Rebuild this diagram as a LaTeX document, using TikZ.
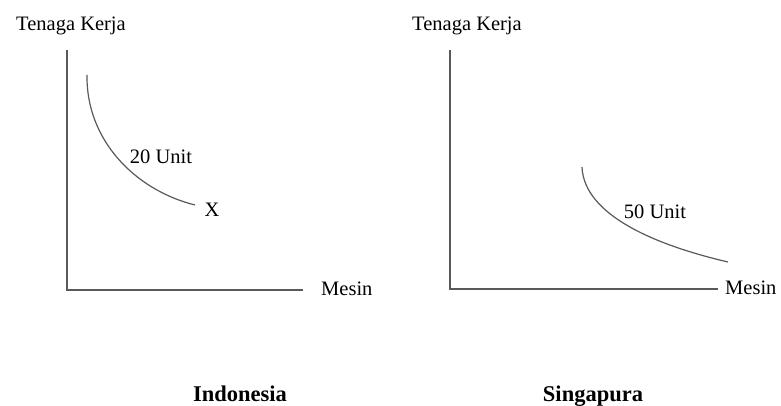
\documentclass[tikz,border=0pt]{standalone}
\usepackage{fontspec}
\setmainfont{Liberation Serif}
\begin{document}
\begin{tikzpicture}[x=1pt,y=-1pt,
  axis/.style={draw=black!65, line width=1.3pt},
  curve/.style={draw=black!65, line width=1.2pt},
  lbl/.style={inner sep=0pt, font=\fontsize{20.5}{24}\selectfont},
  country/.style={inner sep=0pt, anchor=base, font=\fontsize{22.5}{26}\selectfont\bfseries}]
\useasboundingbox (0,0) rectangle (781,406);
% left chart
\coordinate (ltop) at (67,50);
\coordinate (lorig) at (67,290);
\coordinate (lend) at (303,290);
\draw[axis] (ltop) -- (lorig) -- (lend);
\node[lbl, anchor=west] (lmesin) at (321,289) {Mesin};
\node[lbl] (lyl) at (71,26) {Tenaga Kerja};
\coordinate (lc1) at (87,75);
\coordinate (lc2) at (195,205);
\draw[curve] (lc1) .. controls (86,140) and (135,190) .. (lc2);
\node[lbl] (l20) at (161,157) {20 Unit};
\node[lbl] (lx) at (212,210) {X};
\node[country] (indo) at (240,401) {Indonesia};
% right chart
\coordinate (rtop) at (450,50);
\coordinate (rorig) at (450,289);
\coordinate (rend) at (718,289);
\draw[axis] (rtop) -- (rorig) -- (rend);
\node[lbl, anchor=west] (rmesin) at (725,288) {Mesin};
\node[lbl] (ryl) at (467,26) {Tenaga Kerja};
\coordinate (rc1) at (582,167);
\coordinate (rc2) at (728,262);
\draw[curve] (rc1) .. controls (584,215) and (655,245) .. (rc2);
\node[lbl] (r50) at (655,212) {50 Unit};
\node[country] (sing) at (593,401) {Singapura};
\end{tikzpicture}
\end{document}
